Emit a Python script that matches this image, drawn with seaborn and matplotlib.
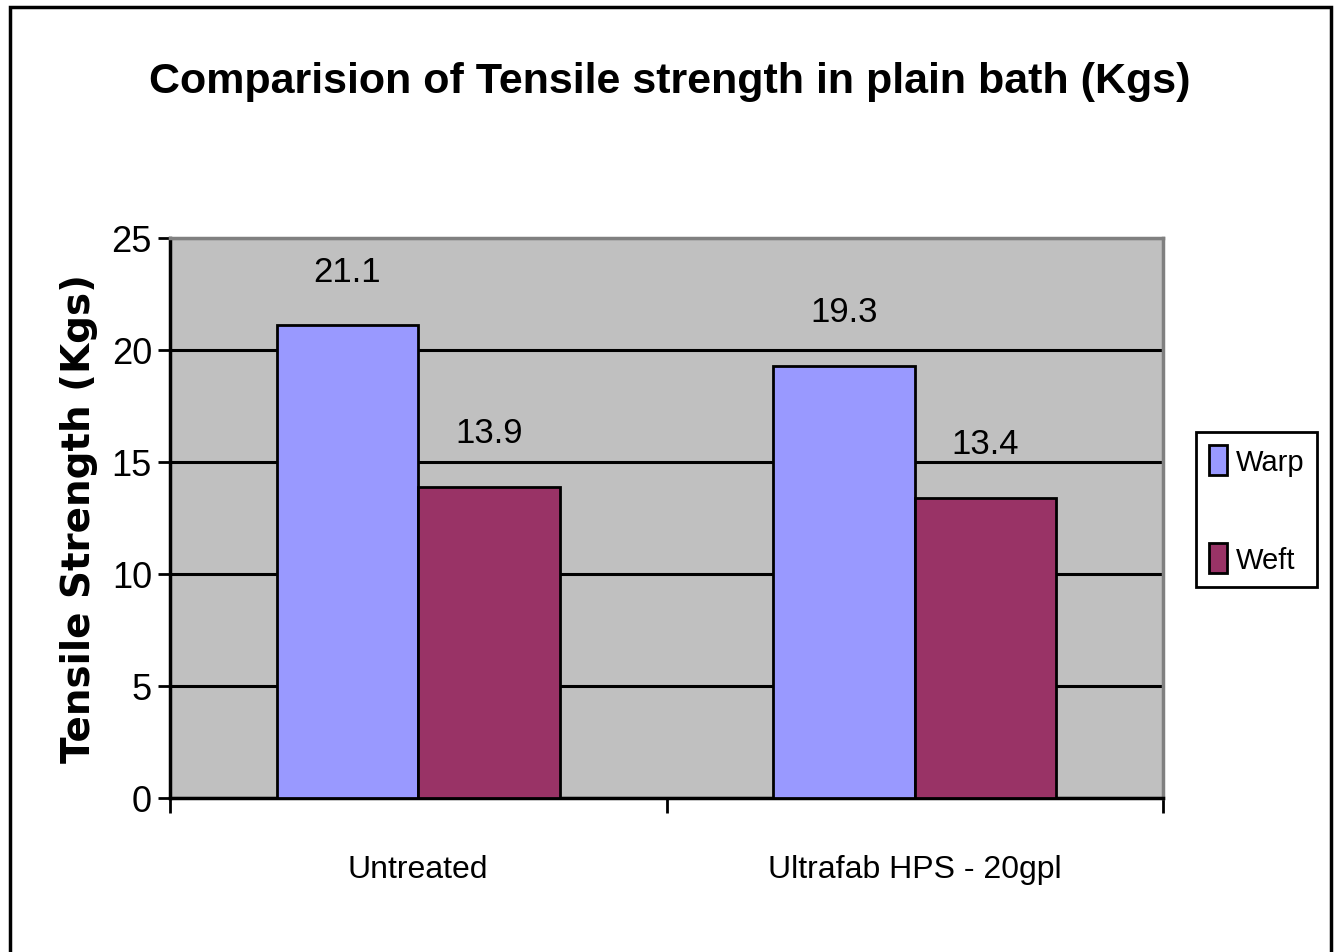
import pandas as pd
import seaborn as sns
import matplotlib.pyplot as plt
from matplotlib.patches import Rectangle

categories = ['Untreated', 'Ultrafab HPS - 20gpl']
series = ['Warp', 'Weft']
warp = [21.1, 19.3]
weft = [13.9, 13.4]
yticks = [0, 5, 10, 15, 20, 25]
colors = ['#9999FF', '#993366']

df = pd.DataFrame({
    'Treatment': categories * 2,
    'Series': ['Warp'] * 2 + ['Weft'] * 2,
    'Strength': warp + weft,
})

sns.set_style('white')
plt.rcParams['font.family'] = ['Liberation Sans', 'DejaVu Sans']
plt.rcParams['text.color'] = 'black'
plt.rcParams['xtick.color'] = 'black'
plt.rcParams['ytick.color'] = 'black'
plt.rcParams['axes.labelcolor'] = 'black'

fig = plt.figure(figsize=(13.35, 9.53), dpi=100)
ax = fig.add_axes([170 / 1335, 1 - 799 / 953, (1163 - 170) / 1335, (799 - 239) / 953])
ax.set_facecolor('#C0C0C0')

sns.barplot(data=df, x='Treatment', y='Strength', hue='Series',
            palette=colors, saturation=1, width=0.57,
            edgecolor='black', linewidth=2, ax=ax, zorder=3)

for c in ax.containers:
    ax.bar_label(c, fmt='%.1f', padding=27, fontsize=25)

ax.set_ylim(0, 25)
ax.set_xlim(-0.5, 1.5)
ax.set_yticks(yticks)
ax.yaxis.grid(True, color='black', linewidth=2.2, zorder=1)
ax.set_axisbelow(True)
ax.tick_params(axis='y', labelsize=26, length=9, width=2, left=True, pad=4)
ax.set_xticks([0, 1])
ax.set_xticklabels(categories)
ax.set_xticks([-0.5, 0.5, 1.5], minor=True)
ax.tick_params(axis='x', which='major', length=0, labelsize=23, pad=40)
ax.tick_params(axis='x', which='minor', length=11, width=2, bottom=True)

for side in ['left', 'bottom']:
    ax.spines[side].set_color('black')
    ax.spines[side].set_linewidth(2.5)
for side in ['top', 'right']:
    ax.spines[side].set_visible(True)
    ax.spines[side].set_color('#808080')
    ax.spines[side].set_linewidth(2.5)

ax.set_xlabel('')
ax.set_ylabel('Tensile Strength (Kgs)', fontsize=28, fontweight='bold',
              family=['DejaVu Sans'], labelpad=10)

ax.get_legend().remove()
handles = [Rectangle((0, 0), 1, 1, facecolor=col, edgecolor='black', linewidth=2)
           for col in colors]
leg = fig.legend(handles, series, loc='upper left',
                 bbox_to_anchor=(1196 / 1335, 1 - 433 / 953),
                 bbox_transform=fig.transFigure, fontsize=21,
                 frameon=True, fancybox=False, edgecolor='black', framealpha=1,
                 handlelength=0.6, handleheight=1.2, handletextpad=0.3,
                 labelspacing=2.3, borderpad=0.45, borderaxespad=0)
leg.get_frame().set_linewidth(2)

fig.suptitle('Comparision of Tensile strength in plain bath (Kgs)',
             x=670 / 1335, y=1 - 82 / 953, va='center',
             fontsize=31, fontweight='bold')

fig.patches.append(Rectangle((10 / 1335, -0.02), (1331 - 10) / 1335, 1.02 - 8 / 953,
                             transform=fig.transFigure, fill=False,
                             edgecolor='black', linewidth=2.5))

fig.savefig('out.png', dpi=100)
